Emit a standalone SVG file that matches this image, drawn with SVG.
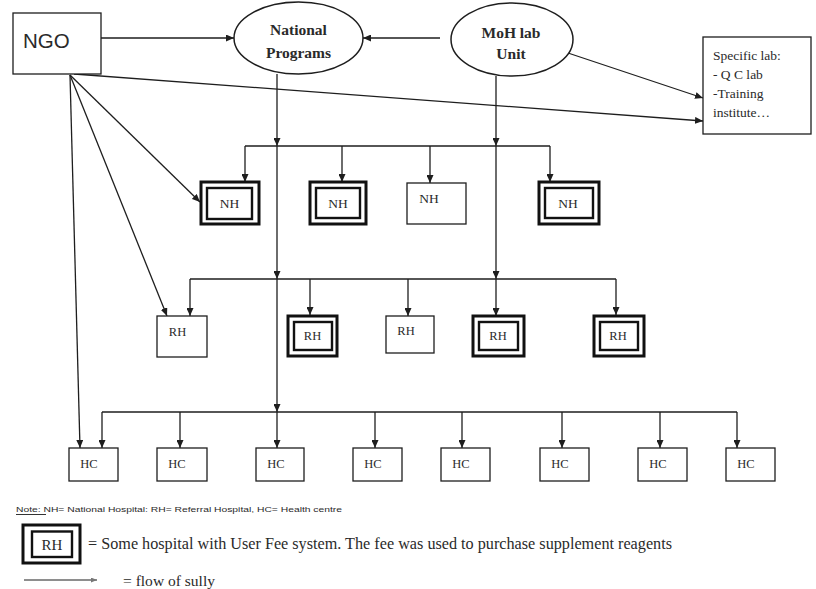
<svg xmlns="http://www.w3.org/2000/svg" width="816" height="589" viewBox="0 0 816 589">
<style>
.bg{fill:#ffffff}
.ln{stroke:#1e1e1e;stroke-width:1.3;fill:none}
.box{fill:#fff;stroke:#1e1e1e;stroke-width:1.3}
.ell{fill:#fff;stroke:#1e1e1e;stroke-width:1.5}
.ob{fill:#fff;stroke:#111;stroke-width:3}
.ib{fill:#fff;stroke:#111;stroke-width:2.4}
.t{font-family:"Liberation Serif","Times New Roman",serif;fill:#2a2a2a}
.s{font-family:"Liberation Sans",Arial,sans-serif;fill:#2a2a2a}
.b{font-weight:bold}
</style>
<defs>
<marker id="ah" viewBox="0 0 8 7" refX="8" refY="3.5" markerWidth="8" markerHeight="7" markerUnits="userSpaceOnUse" orient="auto">
<path d="M0,0 L8,3.5 L0,7 z" fill="#1e1e1e"/>
</marker>
<marker id="ahs" viewBox="0 0 6 5" refX="6" refY="2.5" markerWidth="6" markerHeight="5" markerUnits="userSpaceOnUse" orient="auto">
<path d="M0,0 L6,2.5 L0,5 z" fill="#777"/>
</marker>
</defs>
<rect class="bg" x="0" y="0" width="816" height="589"/>

<g id="connectors">
<line class="ln" x1="101" y1="38" x2="234" y2="38" marker-end="url(#ah)"/>
<line class="ln" x1="440" y1="38" x2="363" y2="38" marker-end="url(#ah)"/>
<line class="ln" x1="562" y1="51" x2="703" y2="98" marker-end="url(#ah)"/>
<line class="ln" x1="74" y1="74" x2="703" y2="121" marker-end="url(#ah)"/>
<line class="ln" x1="70" y1="75" x2="200" y2="202" marker-end="url(#ah)"/>
<line class="ln" x1="70" y1="75" x2="167" y2="316" marker-end="url(#ah)"/>
<line class="ln" x1="70" y1="75" x2="80" y2="448" marker-end="url(#ah)"/>
<!-- National Programs trunk -->
<line class="ln" x1="277" y1="74" x2="277" y2="146" marker-end="url(#ah)"/>
<line class="ln" x1="277" y1="146" x2="277" y2="279" marker-end="url(#ah)"/>
<line class="ln" x1="277" y1="279" x2="277" y2="412" marker-end="url(#ah)"/>
<line class="ln" x1="277" y1="412" x2="277" y2="448" marker-end="url(#ah)"/>
<!-- MoH trunk -->
<line class="ln" x1="496" y1="76" x2="496" y2="146" marker-end="url(#ah)"/>
<line class="ln" x1="496" y1="146" x2="496" y2="279" marker-end="url(#ah)"/>
<line class="ln" x1="496" y1="279" x2="496" y2="316" marker-end="url(#ah)"/>
<!-- NH bus -->
<line class="ln" x1="245" y1="146" x2="550" y2="146"/>
<line class="ln" x1="245" y1="146" x2="245" y2="182" marker-end="url(#ah)"/>
<line class="ln" x1="342" y1="146" x2="342" y2="182" marker-end="url(#ah)"/>
<line class="ln" x1="430" y1="146" x2="430" y2="183" marker-end="url(#ah)"/>
<line class="ln" x1="550" y1="146" x2="550" y2="182" marker-end="url(#ah)"/>
<!-- RH bus -->
<line class="ln" x1="190" y1="279" x2="616" y2="279"/>
<line class="ln" x1="190" y1="279" x2="190" y2="316" marker-end="url(#ah)"/>
<line class="ln" x1="310" y1="279" x2="310" y2="315" marker-end="url(#ah)"/>
<line class="ln" x1="408" y1="279" x2="408" y2="316" marker-end="url(#ah)"/>
<line class="ln" x1="616" y1="279" x2="616" y2="315" marker-end="url(#ah)"/>
<!-- HC bus -->
<line class="ln" x1="102" y1="412" x2="737" y2="412"/>
<line class="ln" x1="102" y1="412" x2="102" y2="448" marker-end="url(#ah)"/>
<line class="ln" x1="180" y1="412" x2="180" y2="448" marker-end="url(#ah)"/>
<line class="ln" x1="375" y1="412" x2="375" y2="448" marker-end="url(#ah)"/>
<line class="ln" x1="462" y1="412" x2="462" y2="448" marker-end="url(#ah)"/>
<line class="ln" x1="562" y1="412" x2="562" y2="448" marker-end="url(#ah)"/>
<line class="ln" x1="660" y1="412" x2="660" y2="448" marker-end="url(#ah)"/>
<line class="ln" x1="737" y1="412" x2="737" y2="448" marker-end="url(#ah)"/>
</g>

<g id="ngo">
<rect class="box" x="13" y="13" width="88" height="61"/>
<text class="s" x="23" y="48" font-size="20.5">NGO</text>
</g>
<g id="national-programs">
<ellipse class="ell" cx="298.5" cy="38" rx="64.5" ry="36"/>
<text class="t b" x="298.5" y="35" font-size="15.5" text-anchor="middle">National</text>
<text class="t b" x="298.5" y="58" font-size="15.5" text-anchor="middle">Programs</text>
</g>
<g id="moh-lab-unit">
<ellipse class="ell" cx="512" cy="39.5" rx="61" ry="36.5"/>
<text class="t b" x="511" y="38" font-size="15.5" text-anchor="middle">MoH lab</text>
<text class="t b" x="511" y="59" font-size="15.5" text-anchor="middle">Unit</text>
</g>
<g id="specific-lab">
<rect class="box" x="703" y="37" width="108" height="97"/>
<text class="t" x="713" y="60" font-size="13.5">Specific lab:</text>
<text class="t" x="713" y="79" font-size="13.5">- Q C lab</text>
<text class="t" x="713" y="98" font-size="13.5">-Training</text>
<text class="t" x="713" y="117" font-size="13.5">institute…</text>
</g>

<g id="nh1">
<rect class="ob" x="201" y="182" width="58" height="42"/>
<rect class="ib" x="207" y="188" width="45" height="31"/>
<text class="t" x="229.5" y="208" font-size="13.5" text-anchor="middle">NH</text>
</g>
<g id="nh2">
<rect class="ob" x="310" y="182" width="56" height="42"/>
<rect class="ib" x="316" y="188" width="44" height="30"/>
<text class="t" x="338" y="208" font-size="13.5" text-anchor="middle">NH</text>
</g>
<g id="nh3">
<rect class="box" x="407" y="183" width="59" height="41"/>
<text class="t" x="429" y="203" font-size="13.5" text-anchor="middle">NH</text>
</g>
<g id="nh4">
<rect class="ob" x="539" y="182" width="60" height="42"/>
<rect class="ib" x="545" y="188" width="48" height="30"/>
<text class="t" x="568" y="208" font-size="13.5" text-anchor="middle">NH</text>
</g>

<g id="rh1">
<rect class="box" x="157" y="316" width="50" height="41"/>
<text class="t" x="177.5" y="336" font-size="12.5" text-anchor="middle">RH</text>
</g>
<g id="rh2">
<rect class="ob" x="288" y="316" width="49" height="40"/>
<rect class="ib" x="294" y="322" width="38" height="28"/>
<text class="t" x="312.5" y="340" font-size="12.5" text-anchor="middle">RH</text>
</g>
<g id="rh3">
<rect class="box" x="386" y="316" width="48" height="37"/>
<text class="t" x="406" y="335" font-size="12.5" text-anchor="middle">RH</text>
</g>
<g id="rh4">
<rect class="ob" x="473" y="316" width="51" height="40"/>
<rect class="ib" x="479" y="322" width="39" height="28"/>
<text class="t" x="498" y="340" font-size="12.5" text-anchor="middle">RH</text>
</g>
<g id="rh5">
<rect class="ob" x="594" y="316" width="50" height="40"/>
<rect class="ib" x="600" y="322" width="38" height="28"/>
<text class="t" x="618" y="340" font-size="12.5" text-anchor="middle">RH</text>
</g>

<g id="hc1"><rect class="box" x="69" y="448" width="49" height="33"/><text class="t" x="89" y="468" font-size="12.5" text-anchor="middle">HC</text></g>
<g id="hc2"><rect class="box" x="157" y="448" width="50" height="33"/><text class="t" x="177" y="468" font-size="12.5" text-anchor="middle">HC</text></g>
<g id="hc3"><rect class="box" x="256" y="448" width="48" height="33"/><text class="t" x="276" y="468" font-size="12.5" text-anchor="middle">HC</text></g>
<g id="hc4"><rect class="box" x="353" y="448" width="49" height="33"/><text class="t" x="373" y="468" font-size="12.5" text-anchor="middle">HC</text></g>
<g id="hc5"><rect class="box" x="441" y="448" width="49" height="33"/><text class="t" x="461" y="468" font-size="12.5" text-anchor="middle">HC</text></g>
<g id="hc6"><rect class="box" x="540" y="448" width="49" height="33"/><text class="t" x="560" y="468" font-size="12.5" text-anchor="middle">HC</text></g>
<g id="hc7"><rect class="box" x="638" y="448" width="49" height="33"/><text class="t" x="658" y="468" font-size="12.5" text-anchor="middle">HC</text></g>
<g id="hc8"><rect class="box" x="726" y="448" width="49" height="33"/><text class="t" x="746" y="468" font-size="12.5" text-anchor="middle">HC</text></g>

<g id="legend">
<text class="s" x="16" y="512" font-size="8" textLength="326" lengthAdjust="spacingAndGlyphs">Note:  NH= National Hospital: RH= Referral Hospital, HC= Health centre</text>
<line x1="16" y1="514.5" x2="46" y2="514.5" stroke="#333" stroke-width="1"/>
<rect class="ob" x="23" y="525" width="57" height="38"/>
<rect class="ib" x="32" y="531.5" width="40" height="25.5"/>
<text class="t" x="52" y="550" font-size="15" text-anchor="middle">RH</text>
<text class="t" x="88" y="549" font-size="16" textLength="584" lengthAdjust="spacingAndGlyphs">= Some hospital with User Fee system. The fee was used to purchase supplement reagents</text>
<line x1="24" y1="580" x2="97" y2="580" stroke="#1e1e1e" stroke-width="1.2" marker-end="url(#ahs)"/>
<text class="t" x="123" y="586" font-size="15" textLength="92" lengthAdjust="spacingAndGlyphs">= flow of sully</text>
</g>
</svg>
